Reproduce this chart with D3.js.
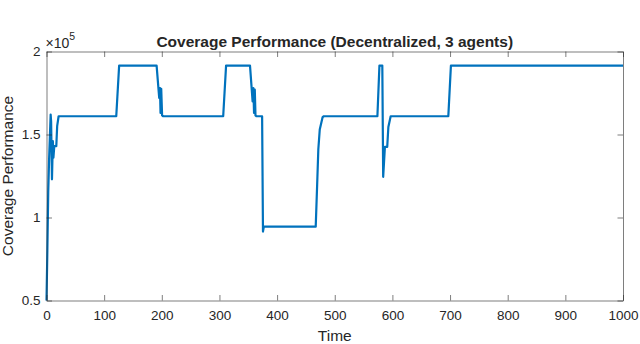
<!DOCTYPE html>
<html>
<head>
<meta charset="utf-8">
<script src="https://cdn.jsdelivr.net/npm/d3@7"></script>
<style>
  html, body { margin: 0; padding: 0; background: #fff; }
  svg { display: block; }
  text { font-family: "Liberation Sans", Arial, Helvetica, sans-serif; fill: #262626; }
</style>
</head>
<body>
<svg id="chart" width="640" height="344"></svg>
<script>
// ---- data ----
const time = [0, 1.5, 3, 4.5, 6, 7.2, 8, 9.5, 11, 12, 13.5, 17, 18.5, 21,
  121, 126, 191, 195.5, 196.8, 197.8, 199, 200.5, 202.5,
  306.5, 311.5, 353, 357.5, 358.8, 360, 361.3, 362.5, 364, 374, 375.5, 377,
  467, 469.5, 471.5, 474, 479, 481,
  574, 577.5, 582.5, 584, 587, 591, 593, 597,
  697, 701.5, 1000];
const coverage = [50000, 80000, 115000, 135000, 150000, 162000, 158000, 123000, 146000, 136000, 143000, 143000, 155000, 161000,
  161000, 191500, 191500, 172000, 178000, 163000, 177500, 161500, 161000,
  161000, 191500, 191500, 170000, 178000, 163000, 177000, 161500, 161000, 161000, 91500, 94500,
  94500, 120000, 141000, 153000, 160500, 161000,
  161000, 191500, 191500, 124500, 142500, 142500, 154500, 161000,
  161000, 191500, 191500];
const xTicks = [0, 100, 200, 300, 400, 500, 600, 700, 800, 900, 1000];
const yTicks = [50000, 100000, 150000, 200000];
const yTickLabels = ["0.5", "1", "1.5", "2"];
const titleText = "Coverage Performance (Decentralized, 3 agents)";
const xLabelText = "Time";
const yLabelText = "Coverage Performance";

// ---- layout ----
const svg = d3.select("#chart");
const L = 46.5, R = 623, T = 51.5, B = 300.5;
const x = d3.scaleLinear().domain([0, 1000]).range([L, R]);
const y = d3.scaleLinear().domain([50000, 200000]).range([B, T]);
const axisColor = "#262626";
const tickLen = 5.5;

// line
const data = time.map((t, i) => [t, coverage[i]]);
svg.append("path")
  .datum(data)
  .attr("fill", "none")
  .attr("stroke", "#0072BD")
  .attr("stroke-width", 2.2)
  .attr("stroke-linejoin", "round")
  .attr("d", d3.line().x(d => x(d[0])).y(d => y(d[1])));

function styleAxis(g, labels) {
  g.selectAll(".domain").attr("stroke", axisColor).attr("stroke-width", 0.6);
  g.selectAll(".tick line").attr("stroke", axisColor).attr("stroke-width", 0.6);
  g.selectAll(".tick text").attr("fill", axisColor)
    .style("font-family", '"Liberation Sans", Arial, Helvetica, sans-serif')
    .style("font-size", "13.5px");
  if (!labels) g.selectAll(".tick text").remove();
}

// bottom
svg.append("g").attr("transform", `translate(0,${B})`)
  .call(d3.axisBottom(x).tickValues(xTicks).tickSizeInner(-tickLen).tickSizeOuter(0).tickPadding(10).tickFormat(d3.format("d")))
  .call(g => styleAxis(g, true));
// top
svg.append("g").attr("transform", `translate(0,${T})`)
  .call(d3.axisTop(x).tickValues(xTicks).tickSizeInner(-tickLen).tickSizeOuter(0))
  .call(g => styleAxis(g, false));
// left
svg.append("g").attr("transform", `translate(${L},0)`)
  .call(d3.axisLeft(y).tickValues(yTicks).tickSizeInner(-tickLen).tickSizeOuter(0).tickPadding(6)
    .tickFormat((d, i) => yTickLabels[i]))
  .call(g => styleAxis(g, true));
// right
svg.append("g").attr("transform", `translate(${R},0)`)
  .call(d3.axisRight(y).tickValues(yTicks).tickSizeInner(-tickLen).tickSizeOuter(0))
  .call(g => styleAxis(g, false));

// exponent
const ex = svg.append("text").attr("x", L - 1).attr("y", 48).style("font-size", "14px");
ex.append("tspan").text("×10");
ex.append("tspan").attr("dy", -8).style("font-size", "10.5px").text("5");

// title
svg.append("text").attr("x", (L + R) / 2).attr("y", 47).attr("text-anchor", "middle")
  .style("font-size", "15.5px").style("font-weight", "bold").attr("fill", "#000").text(titleText);
// x label
svg.append("text").attr("x", (L + R) / 2).attr("y", 341).attr("text-anchor", "middle")
  .style("font-size", "15.5px").text(xLabelText);
// y label
svg.append("text").attr("transform", `translate(13,${(T + B) / 2}) rotate(-90)`).attr("text-anchor", "middle")
  .style("font-size", "15.5px").text(yLabelText);
</script>
</body>
</html>
